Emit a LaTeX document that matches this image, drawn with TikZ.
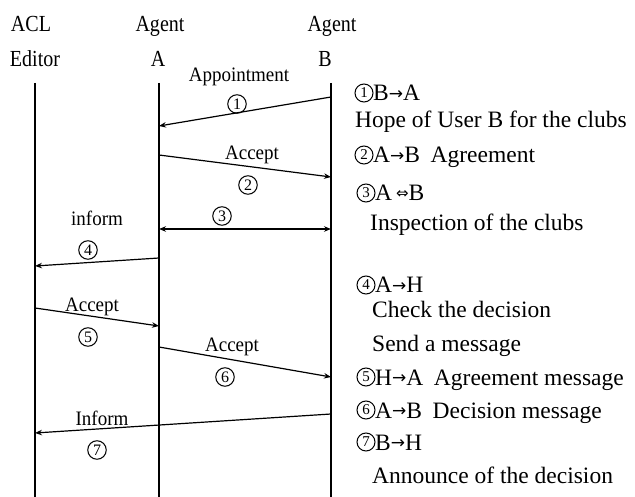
\documentclass[tikz,border=0pt]{standalone}
\usepackage{fontspec}
\setmainfont{Liberation Serif}
\newfontfamily\symfont{DejaVu Sans}
\usetikzlibrary{arrows.meta}
\newcommand{\rarr}{{\symfont\fontsize{17}{17}\selectfont\raisebox{1.5pt}{→}}}
\newcommand{\darr}{{\symfont\fontsize{15}{15}\selectfont\raisebox{2pt}{⇔}}}

\begin{document}
\begin{tikzpicture}[x=1pt,y=-1pt,
  lifeline/.style={line width=1.4pt},
  tip/.style={-{Stealth[length=7pt,width=5.5pt]}},
  msg/.style={line width=1.2pt,tip},
  twoway/.style={line width=1.2pt,{Stealth[length=7pt,width=5.5pt]}-{Stealth[length=7pt,width=5.5pt]}},
  head/.style={font=\fontsize{23}{23}\selectfont, xscale=0.87, inner sep=0, anchor=base},
  lbl/.style={font=\fontsize{19}{19}\selectfont, yscale=1.08, inner sep=0},
  num/.style={circle, draw, line width=1pt, minimum size=18.5pt, inner sep=0,
              font=\fontsize{16}{16}\selectfont},
  rnum/.style={circle, draw, line width=1pt, minimum size=18pt, inner sep=0,
               font=\fontsize{15}{15}\selectfont},
  note/.style={font=\fontsize{23.5}{28}\selectfont, inner sep=0, anchor=base west},
]
\useasboundingbox (0,0) rectangle (635,497);

% column headers
\node[head] (hACL) at (31,32) {ACL};
\node[head] (hEd)  at (35,67) {Editor};
\node[head] (hAgA) at (160,32) {Agent};
\node[head] (hA)   at (158,67) {A};
\node[head] (hAgB) at (332,32) {Agent};
\node[head] (hB)   at (325,67) {B};

% lifelines
\coordinate (eTop) at (35,83);  \coordinate (eBot) at (35,497);
\coordinate (aTop) at (159,83); \coordinate (aBot) at (159,497);
\coordinate (bTop) at (331,83); \coordinate (bBot) at (331,497);
\draw[lifeline] (eTop) -- (eBot);
\draw[lifeline] (aTop) -- (aBot);
\draw[lifeline] (bTop) -- (bBot);

% message end points on the lifelines
\coordinate (b1) at (331,97);  \coordinate (a1) at (159,126);
\coordinate (a2) at (159,155); \coordinate (b2) at (331,177);
\coordinate (a3) at (159,229); \coordinate (b3) at (331,229);
\coordinate (a4) at (159,258); \coordinate (e4) at (35,266);
\coordinate (e5) at (35,308);  \coordinate (a5) at (159,326);
\coordinate (a6) at (159,347); \coordinate (b6) at (331,377);
\coordinate (b7) at (331,414); \coordinate (e7) at (35,433);

% messages
\draw[msg] (b1) -- (a1);
\draw[msg] (a2) -- (b2);
\draw[twoway] (a3) -- (b3);
\draw[msg] (a4) -- (e4);
\draw[msg] (e5) -- (a5);
\draw[msg] (a6) -- (b6);
\draw[msg] (b7) -- (e7);

% message labels
\node[lbl] (l1) at (239,77)  {Appointment};
\node[num] (n1) at (237,104) {1};
\node[lbl] (l2) at (252,155) {Accept};
\node[num] (n2) at (248,185) {2};
\node[num] (n3) at (222,216) {3};
\node[lbl] (l4) at (97,218)  {inform};
\node[num] (n4) at (88,250)  {4};
\node[lbl] (l5) at (92,307)  {Accept};
\node[num] (n5) at (88,337)  {5};
\node[lbl] (l6) at (232,347) {Accept};
\node[num] (n6) at (225,377) {6};
\node[lbl] (l7) at (102,418) {Inform};
\node[num] (n7) at (97,450)  {7};

% legend
\node[rnum] (r1) at (364,93) {1};
\node[note] (t1) at (373,101) {B\rarr A};
\node[note] (t1b) at (355,128) {Hope of User B for the clubs};
\node[rnum] (r2) at (364,155) {2};
\node[note] (t2) at (373,163) {A\rarr B\hspace{0.45em}Agreement};
\node[rnum] (r3) at (366,193) {3};
\node[note] (t3) at (375,201) {A\,\darr B};
\node[note] (t3b) at (370,231) {Inspection of the clubs};
\node[rnum] (r4) at (366,285) {4};
\node[note] (t4) at (375,293) {A\rarr H};
\node[note] (t4b) at (372,318) {Check the decision};
\node[note] (t4c) at (372,352) {Send a message};
\node[rnum] (r5) at (366,377) {5};
\node[note] (t5) at (375,385) {H\rarr A\hspace{0.45em}Agreement message};
\node[rnum] (r6) at (366,410) {6};
\node[note] (t6) at (375,418) {A\rarr B\hspace{0.45em}Decision message};
\node[rnum] (r7) at (366,442) {7};
\node[note] (t7) at (375,450) {B\rarr H};
\node[note] (t7b) at (372,483) {Announce of the decision};
\end{tikzpicture}
\end{document}
